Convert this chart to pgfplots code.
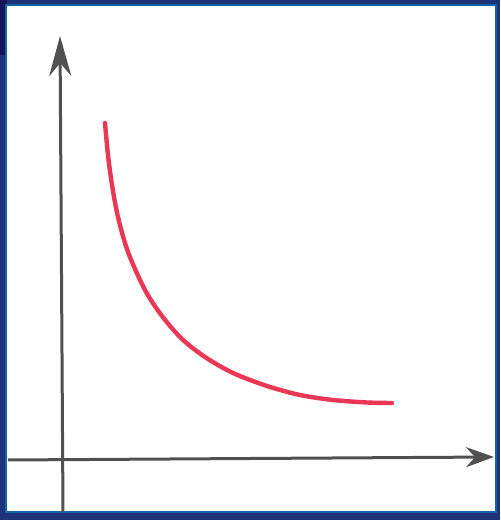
\documentclass[border=0pt]{standalone}
\usepackage{pgfplots}
\pgfplotsset{compat=1.18}
\usetikzlibrary{arrows.meta}
\definecolor{navy}{RGB}{30,52,120}
\definecolor{darknavy}{RGB}{20,20,90}
\definecolor{edgeblue}{RGB}{20,100,165}
\definecolor{pencil}{RGB}{80,80,80}
\definecolor{redpen}{RGB}{234,55,85}
\begin{document}
\begin{tikzpicture}
\begin{axis}[
  width=250pt, height=260pt, scale only axis,
  xmin=0, xmax=500, ymin=0, ymax=520,
  hide axis, clip=true,
]
% frame
\fill[navy] (axis cs:0,0) rectangle (axis cs:500,520);
\fill[darknavy] (axis cs:0,465) rectangle (axis cs:7,520);
\fill[edgeblue] (axis cs:5,7) rectangle (axis cs:497,516);
\fill[white] (axis cs:7,9) rectangle (axis cs:495,514);
% axes
\addplot[pencil, line width=1.5pt, -{Stealth[length=14pt,width=10pt]}] coordinates {(8,60) (494,63)};
\addplot[pencil, line width=1.5pt, -{Stealth[length=20pt,width=11pt]}] coordinates {(63,8) (60,484)};
% curve
\addplot[redpen, line width=2.2pt, smooth, line cap=round] coordinates {
(105,397) (108,365) (112,335) (118,303) (128,268) (145,230) (162,204)
(182,181) (205,163) (233,147) (267,134) (300,125) (333,120) (367,117.5) (392,117)};
\end{axis}
\end{tikzpicture}
\end{document}
